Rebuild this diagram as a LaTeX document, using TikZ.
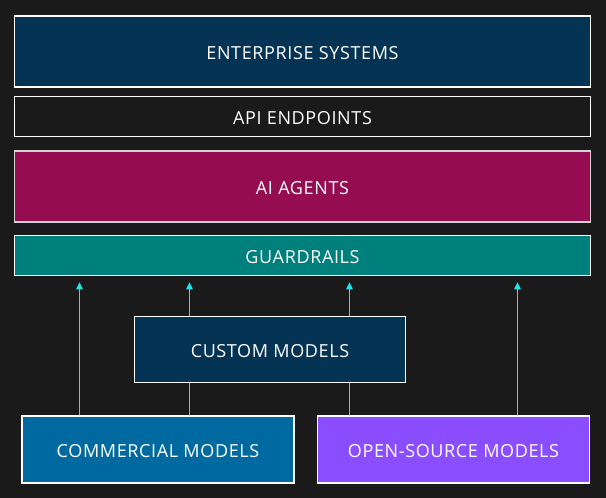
\documentclass[tikz,border=0pt]{standalone}
\usepackage{fontspec}
\setmainfont{Open Sans}[LetterSpace=3.5]
\usetikzlibrary{arrows.meta}
\definecolor{bg}{HTML}{1A1A1A}
\definecolor{navy}{HTML}{053354}
\definecolor{wine}{HTML}{960C50}
\definecolor{teal2}{HTML}{00807D}
\definecolor{blue2}{HTML}{0069A0}
\definecolor{purp}{HTML}{8A4DFF}
\definecolor{cyanl}{HTML}{22E5EE}
\tikzset{
  box/.style={draw=white, line width=1.5pt, text=white, inner sep=0pt,
    font=\fontsize{18}{19}\selectfont, text height=15pt, text depth=0pt},
  arr/.style={draw=cyanl, line width=0.8pt, -{Triangle[length=7pt,width=6.5pt]}},
}
\begin{document}
\begin{tikzpicture}[x=1pt,y=-1pt]
\fill[bg] (0,0) rectangle (606,498);
\useasboundingbox (0,0) rectangle (606,498);
\node[box, fill=navy, minimum width=576pt, minimum height=71pt] (ent) at (302.5,51.5) {ENTERPRISE SYSTEMS};
\node[box, fill=bg, minimum width=576pt, minimum height=40pt] (api) at (302.5,116.5) {API ENDPOINTS};
\node[box, draw={rgb,255:red,210;green,210;blue,210}, fill=wine, minimum width=576pt, minimum height=71pt] (agents) at (302.5,186.5) {AI AGENTS};
\node[box, fill=teal2, minimum width=576pt, minimum height=40pt] (guard) at (302.5,255.5) {GUARDRAILS};
\coordinate (x1) at (79.5,0);
\coordinate (x2) at (189.5,0);
\coordinate (x3) at (349.5,0);
\coordinate (x4) at (517.5,0);
\node[box, fill=blue2, minimum width=272pt, minimum height=67pt] (comm) at (158,449.5) {COMMERCIAL MODELS};
\node[box, fill=purp, minimum width=272pt, minimum height=67pt] (open) at (453.5,449.5) {OPEN-SOURCE MODELS};
\draw[arr] (comm.north -| x1) -- ([yshift=-6pt]guard.south -| x1);
\draw[arr] (comm.north -| x2) -- ([yshift=-6pt]guard.south -| x2);
\draw[arr] (open.north -| x3) -- ([yshift=-6pt]guard.south -| x3);
\draw[arr] (open.north -| x4) -- ([yshift=-6pt]guard.south -| x4);
\node[box, fill=navy, minimum width=271pt, minimum height=66pt] (custom) at (270,349.5) {CUSTOM MODELS};
\end{tikzpicture}
\end{document}
